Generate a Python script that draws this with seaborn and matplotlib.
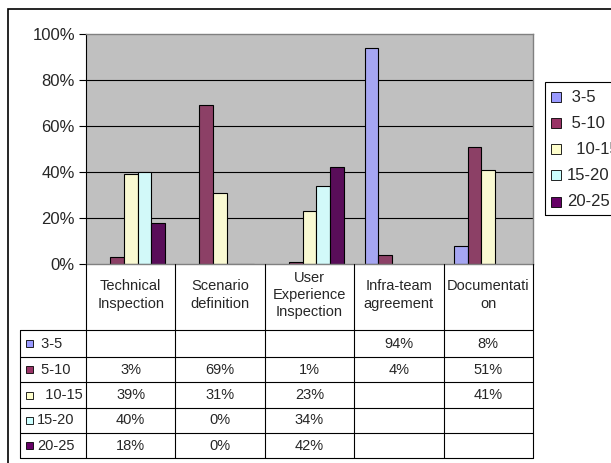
import numpy as np
import pandas as pd
import matplotlib
matplotlib.use("Agg")
import matplotlib.pyplot as plt
import seaborn as sns
from matplotlib.patches import Rectangle
from matplotlib.lines import Line2D
from matplotlib.ticker import FuncFormatter

# Activities (x categories) and experience groups (series)
activities = ["Technical\nInspection", "Scenario\ndefinition",
              "User\nExperience\nInspection", "Infra-team\nagreement",
              "Documentati\non"]
groups = ["3-5", "5-10", "10-15", "15-20", "20-25"]
group_labels = [" 3-5", " 5-10", "  10-15", "15-20", "20-25"]

# Share of answers per group, in percent (NaN = no answer)
share_3_5 = [np.nan, np.nan, np.nan, 94, 8]
share_5_10 = [3, 69, 1, 4, 51]
share_10_15 = [39, 31, 23, np.nan, 41]
share_15_20 = [40, 0, 34, np.nan, np.nan]
share_20_25 = [18, 0, 42, np.nan, np.nan]

y_ticks = [0, 20, 40, 60, 80, 100]
colors = ["#9999FF", "#993366", "#FFFFCC", "#CCFFFF", "#660066"]

series = [share_3_5, share_5_10, share_10_15, share_15_20, share_20_25]
rows = []
for g, vals in zip(groups, series):
    for a, v in zip(activities, vals):
        rows.append({"activity": a, "group": g, "share": v})
df = pd.DataFrame(rows)
df_bars = df.dropna(subset=["share"])

W, H = 611, 463
sns.set_style("white")
plt.rcParams["font.family"] = ["Liberation Sans", "DejaVu Sans"]

fig = plt.figure(figsize=(W / 100, H / 100), dpi=100)


def fx(x):
    return x / W


def fy(y):
    return 1 - y / H


ax_l, ax_r, ax_t, ax_b = 86, 533, 34, 264
ax = fig.add_axes([fx(ax_l), fy(ax_b), fx(ax_r - ax_l), (ax_b - ax_t) / H])
ax.set_facecolor("#C0C0C0")

sns.barplot(data=df_bars, x="activity", y="share", hue="group",
            order=activities, hue_order=groups, palette=colors,
            width=0.769, edgecolor="black", linewidth=0.8,
            legend=False, ax=ax, errorbar=None)

ax.set_xlim(-0.5, len(activities) - 0.5)
ax.set_ylim(0, 100)
ax.set_yticks(y_ticks)
ax.yaxis.set_major_formatter(FuncFormatter(lambda v, _: f"{v:.0f}%"))
ax.tick_params(axis="y", length=5, width=0.8, color="black",
               labelsize=12, pad=3, left=True)
ax.set_xticks([])
ax.set_xlabel("")
ax.set_ylabel("")
for y in y_ticks[1:-1]:
    ax.axhline(y, color="black", lw=0.8, zorder=0.5)
ax.set_axisbelow(True)
for side in ["top", "right", "bottom"]:
    ax.spines[side].set_color("#808080")
    ax.spines[side].set_linewidth(1.0)
ax.spines["left"].set_color("black")
ax.spines["left"].set_linewidth(0.8)

# Outer chart frame
fig.add_artist(Rectangle((fx(8), fy(480)), fx(700), (480 - 9) / H,
                         transform=fig.transFigure, fill=False,
                         edgecolor="black", lw=1.2, clip_on=False))

# Data table below the plot
line_kw = dict(transform=fig.transFigure, color="black", lw=0.8)
col_w = (ax_r - ax_l) / len(activities)
col_x = [ax_l + i * col_w for i in range(len(activities) + 1)]
row_y = [330, 357, 382, 408, 433, 458]
lab_l = 20

for x in col_x:
    fig.add_artist(Line2D([fx(x), fx(x)], [fy(ax_b), fy(row_y[-1])], **line_kw))
fig.add_artist(Line2D([fx(lab_l), fx(lab_l)], [fy(row_y[0]), fy(row_y[-1])], **line_kw))
for y in row_y:
    fig.add_artist(Line2D([fx(lab_l), fx(ax_r)], [fy(y), fy(y)], **line_kw))

# Column headers
for i, a in enumerate(activities):
    cx = (col_x[i] + col_x[i + 1]) / 2
    fig.text(fx(cx), fy((ax_b + row_y[0]) / 2 - 2), a, ha="center", va="center",
             fontsize=10.5, linespacing=1.3)

# Row labels with color keys and the values
for r, (lab, c, vals) in enumerate(zip(group_labels, colors, series)):
    cy = (row_y[r] + row_y[r + 1]) / 2
    fig.add_artist(Rectangle((fx(26), fy(cy + 3.5)), fx(7), 7 / H,
                             transform=fig.transFigure, facecolor=c,
                             edgecolor="black", lw=0.6))
    fig.text(fx(37), fy(cy), lab, ha="left", va="center", fontsize=10.5)
    for i, v in enumerate(vals):
        if not np.isnan(v):
            cx = (col_x[i] + col_x[i + 1]) / 2
            fig.text(fx(cx), fy(cy), f"{v:.0f}%", ha="center", va="center",
                     fontsize=10.5)

# Legend box on the right
fig.add_artist(Rectangle((fx(545), fy(215)), fx(80), (215 - 82) / H,
                         transform=fig.transFigure, fill=False,
                         edgecolor="black", lw=0.8, clip_on=False))
leg_y = [97, 123, 149, 175, 202]
for lab, c, y in zip(group_labels, colors, leg_y):
    fig.add_artist(Rectangle((fx(551), fy(y + 5)), fx(10), 10 / H,
                             transform=fig.transFigure, facecolor=c,
                             edgecolor="black", lw=0.6))
    fig.text(fx(567), fy(y), lab, ha="left", va="center", fontsize=12)

fig.savefig("out.png", dpi=100, facecolor="white")
